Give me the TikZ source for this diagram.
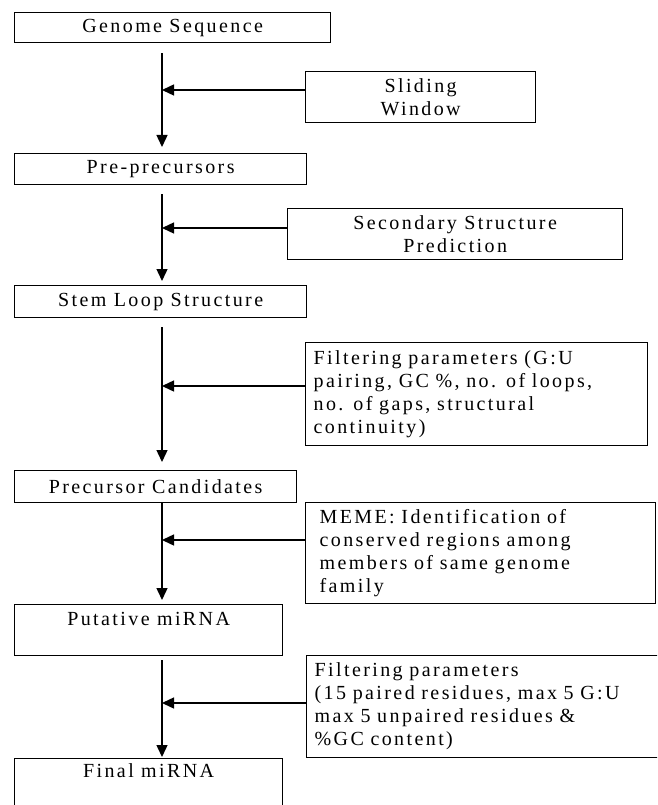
\documentclass[tikz,border=0pt]{standalone}
\usepackage{fontspec}
\setmainfont[LetterSpace=12]{Liberation Serif}
\usetikzlibrary{arrows.meta}
\begin{document}
\begin{tikzpicture}[x=1pt,y=-1pt,
  box/.style={draw, line width=1.3pt, inner sep=0pt, anchor=north west,
    font=\fontsize{20}{23}\selectfont, align=center},
  lbox/.style={box, align=left, inner xsep=8pt},
  conn/.style={line width=1.4pt, -{Triangle[length=12pt,width=11pt]}}]
\useasboundingbox (0,0) rectangle (657,805);
\clip (0,0) rectangle (657,805);
% main column
\node[box, minimum width=316pt, minimum height=30pt] (gen) at (14,12) {Genome Sequence};
\node[box, minimum width=292pt, minimum height=31pt] (pre) at (14,153) {Pre-precursors};
\node[box, minimum width=292pt, minimum height=32pt] (stem) at (14,285) {Stem Loop Structure};
\node[box, minimum width=282pt, minimum height=32pt] (pc) at (14,470) {Precursor Candidates};
\node[box, minimum width=268pt, minimum height=51pt] (put) at (14,604) {Putative miRNA\\ \mbox{}};
\node[box, minimum width=268pt, minimum height=70pt] (fin) at (14,758) {Final miRNA\\ \mbox{}\\ \mbox{}};
% side boxes
\node[box, minimum width=230pt, minimum height=51pt] (sw) at (305,71) {Sliding\\Window};
\node[box, minimum width=335pt, minimum height=51pt] (ssp) at (287,208) {Secondary Structure\\Prediction};
\node[lbox, text width=326pt, minimum height=103pt] (fp1) at (305,342)
  {Filtering parameters (G:U\\pairing, GC \%, no. of loops,\\no. of gaps, structural\\continuity)};
\node[lbox, inner xsep=14pt, text width=322pt, minimum height=101pt] (meme) at (305,502)
  {MEME: Identification of\\conserved regions among\\members of same genome\\family};
\node[lbox, text width=354pt, minimum height=102pt] (fp2) at (306,655)
  {Filtering parameters\\(15 paired residues, max 5 G:U\\max 5 unpaired residues \&\\\%GC content)};
% junction points on the main line
\coordinate (v) at (162,0);
\coordinate (j1) at (162,90);
\coordinate (j2) at (162,228);
\coordinate (j3) at (162,386);
\coordinate (j4) at (162,540);
\coordinate (j5) at (162,703);
% vertical connectors
\draw[conn, shorten <=10pt, shorten >=6pt] (gen.south -| v) -- (pre.north -| v);
\draw[conn, shorten <=9pt, shorten >=4pt] (pre.south -| v) -- (stem.north -| v);
\draw[conn, shorten <=9pt, shorten >=8pt] (stem.south -| v) -- (pc.north -| v);
\draw[conn, shorten >=4pt] (pc.south -| v) -- (put.north -| v);
\draw[conn, shorten <=4pt, shorten >=1pt] (put.south -| v) -- (fin.north -| v);
% side connectors
\draw[conn] (sw.west |- j1) -- (j1);
\draw[conn] (ssp.west |- j2) -- (j2);
\draw[conn] (fp1.west |- j3) -- (j3);
\draw[conn] (meme.west |- j4) -- (j4);
\draw[conn] (fp2.west |- j5) -- (j5);
\end{tikzpicture}
\end{document}
